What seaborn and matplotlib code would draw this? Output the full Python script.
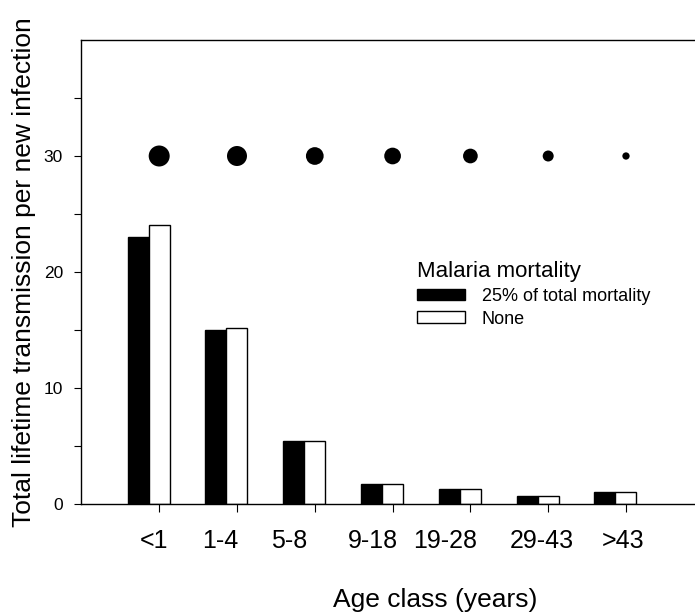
import matplotlib
matplotlib.use("Agg")
import matplotlib.pyplot as plt
import matplotlib.transforms as mtransforms
import pandas as pd
import seaborn as sns

# values
age_classes = ["<1", "1-4", "5-8", "9-18", "19-28", "29-43", ">43"]
with_malaria = [23.0, 15.0, 5.45, 1.72, 1.29, 0.66, 1.06]
no_malaria = [24.05, 15.2, 5.45, 1.70, 1.29, 0.66, 1.06]
series_names = ["25% of total mortality", "None"]
# dots along the top, diameter in pixels
dot_diam = [21, 20, 17.7, 16.7, 14.7, 11, 7.3]
dot_level = 30

df = pd.DataFrame({
    "age": age_classes * 2,
    "value": with_malaria + no_malaria,
    "mortality": [series_names[0]] * len(age_classes) + [series_names[1]] * len(age_classes),
})

sns.set_style("ticks")
plt.rcParams["font.family"] = ["Liberation Sans", "DejaVu Sans"]
for key in ["text.color", "axes.labelcolor", "xtick.color", "ytick.color", "axes.edgecolor"]:
    plt.rcParams[key] = "black"

fig = plt.figure(figsize=(6.95, 6.16), dpi=100)
ax = fig.add_axes([81 / 695, 1 - 504 / 616, 1 - 81 / 695, 464 / 616])

sns.barplot(data=df, x="age", y="value", hue="mortality", order=age_classes,
            hue_order=series_names, palette={series_names[0]: "black", series_names[1]: "white"},
            edgecolor="black", linewidth=1.0, width=0.54, gap=0, saturation=1, ax=ax)

# ticks sit under the white bar of each pair
tick_pos = [i + 0.135 for i in range(len(age_classes))]
ax.scatter(tick_pos, [dot_level] * len(tick_pos), s=[(d * 0.72) ** 2 for d in dot_diam],
           color="black", linewidths=0, zorder=3)

ax.set_xlim(-0.870, 7.022)
ax.set_ylim(0, 40)
ax.set_xticks(tick_pos)
ax.set_xticklabels(age_classes, fontsize=18)
ax.set_yticks([0, 10, 20, 30])
ax.set_yticks([5, 15, 25, 35], minor=True)
ax.tick_params(axis="y", which="both", direction="out", length=5, width=0.8, labelsize=12.5, pad=8,
               color="black", labelcolor="black")
ax.tick_params(axis="x", direction="out", length=6, width=0.8, pad=12, color="black", labelcolor="black")

# labels in the reference are nudged left of their ticks
shift_px = [-5.6, -16.7, -26, -19.7, -25, -6, -3]
for lab, dx in zip(ax.get_xticklabels(), shift_px):
    lab.set_transform(lab.get_transform() + mtransforms.ScaledTranslation(dx / 100, 0, fig.dpi_scale_trans))

for side in ["left", "top", "bottom"]:
    ax.spines[side].set_color("black")
    ax.spines[side].set_linewidth(1.0)
ax.spines["right"].set_visible(False)

ax.set_xlabel("Age class (years)", fontsize=19, color="black")
ax.set_ylabel("Total lifetime transmission per new infection", fontsize=19, color="black")
ax.xaxis.set_label_coords(0.577, -0.180)
ax.yaxis.set_label_coords(-0.074, 0.5)

ax.legend(title="Malaria mortality", loc="upper left", bbox_to_anchor=(416.7 / 695, 1 - 261 / 616),
          bbox_transform=fig.transFigure, frameon=False, fontsize=13, title_fontsize=16,
          handlelength=2.7, handleheight=0.6, handletextpad=0.9, labelspacing=0.32,
          borderpad=0, borderaxespad=0, alignment="left")

fig.savefig("out.png", dpi=100)
